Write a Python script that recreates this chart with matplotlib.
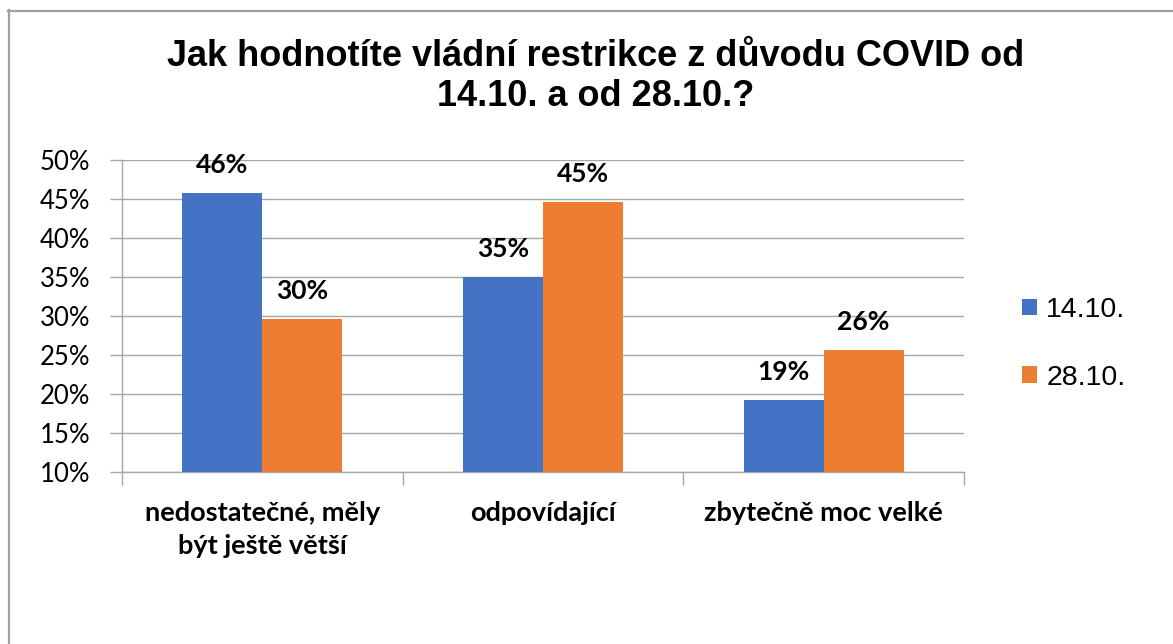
import matplotlib
matplotlib.use('Agg')
import matplotlib.pyplot as plt
from matplotlib.lines import Line2D
from matplotlib.patches import Patch
import numpy as np

# ---- data ----
categories = ["nedostatečné, měly\nbýt ještě větší", "odpovídající", "zbytečně moc velké"]
series_names = ["14.10.", "28.10."]
values_1410 = [45.8, 35.0, 19.2]
values_2810 = [29.6, 44.6, 25.6]
y_ticks = [10, 15, 20, 25, 30, 35, 40, 45, 50]
y_tick_labels = [f"{t}%" for t in y_ticks]
title = "Jak hodnotíte vládní restrikce z důvodu COVID od\n14.10. a od 28.10.?"

BLUE = '#4472C4'
ORANGE = '#ED7D31'
GRID = '#A6A6A6'

W, H = 1173, 644
fig = plt.figure(figsize=(W / 100, H / 100), dpi=100)
fig.patch.set_facecolor('white')

# outer frame (top and left visible)
fig.add_artist(Line2D([8 / W, 1], [1 - 10.5 / H] * 2, transform=fig.transFigure,
                      color='#A0A0A0', lw=1.6))
fig.add_artist(Line2D([9 / W] * 2, [0, 1 - 10 / H], transform=fig.transFigure,
                      color='#A0A0A0', lw=1.6))

ax = fig.add_axes([122 / W, 1 - 472 / H, (964 - 122) / W, (472 - 160) / H])

x = np.arange(len(categories))
w = 0.285
ax.bar(x - w / 2, values_1410, w, color=BLUE, zorder=3)
ax.bar(x + w / 2, values_2810, w, color=ORANGE, zorder=3)

for xs, vals in ((x - w / 2, values_1410), (x + w / 2, values_2810)):
    for xi, v in zip(xs, vals):
        ax.annotate(f"{round(v)}%", (xi, v), xytext=(0, 11.5), textcoords='offset points',
                    ha='center', va='bottom', fontsize=19, fontweight='bold',
                    family='Lato', color='black')

ax.set_ylim(10, 50)
ax.set_xlim(-0.5, len(categories) - 0.5)
ax.set_yticks(y_ticks)
ax.set_yticklabels(y_tick_labels, family='Lato', fontsize=18.5)
ax.yaxis.grid(True, color=GRID, lw=1.0, zorder=0)
ax.set_axisbelow(True)

# x ticks at category boundaries, labels at centers
ax.set_xticks(np.arange(-0.5, len(categories), 1.0))
ax.set_xticklabels([])
ax.set_xticks(x, minor=True)
ax.set_xticklabels(categories, minor=True, family='Lato', fontsize=19.5,
                   fontweight='bold', linespacing=1.45)
ax.tick_params(axis='x', which='major', length=9, color=GRID, width=1.0, direction='out')
ax.tick_params(axis='x', which='minor', length=0, pad=21)
ax.tick_params(axis='y', length=9, color=GRID, width=1.0, pad=14, direction='out')

for s in ('top', 'right'):
    ax.spines[s].set_visible(False)
for s in ('left', 'bottom'):
    ax.spines[s].set_color(GRID)
    ax.spines[s].set_linewidth(1.0)

fig.text(596 / W, 1 - 39 / H, title, ha='center', va='top', fontsize=26,
         fontweight='bold', family='Liberation Sans', linespacing=1.2)

handles = [Patch(facecolor=BLUE, edgecolor='none'), Patch(facecolor=ORANGE, edgecolor='none')]
fig.legend(handles, series_names, loc='center left',
           bbox_to_anchor=(1022 / W, 1 - 344 / H), frameon=False,
           prop={'family': 'Liberation Sans', 'size': 20.5},
           handlelength=0.53, handleheight=0.53, handletextpad=0.32,
           labelspacing=1.47, borderpad=0, borderaxespad=0)

fig.savefig('out.png', dpi=100, facecolor='white')
